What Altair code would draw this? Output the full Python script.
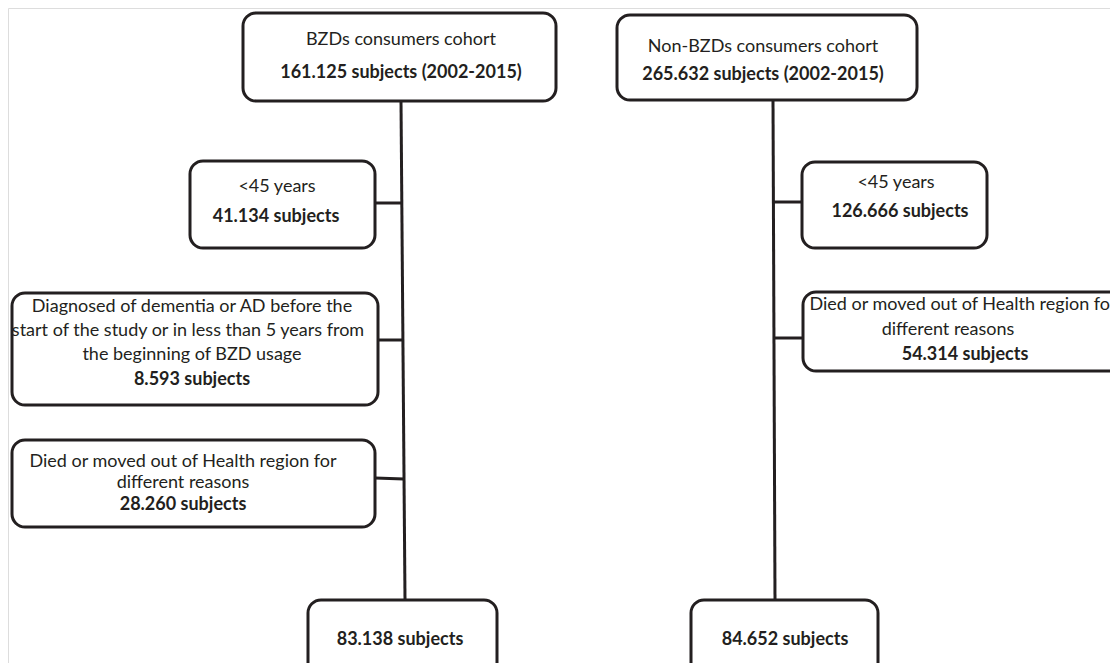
import altair as alt
import pandas as pd

# Flowchart boxes (left, top, right, bottom) in page pixels
box_x1 = [243, 617, 190, 12, 12, 802, 803, 308, 691]
box_y1 = [13, 15, 161, 293, 440, 162, 292, 600, 600]
box_x2 = [556, 917, 375, 378, 375, 987, 1135, 497, 878]
box_y2 = [101, 100, 248, 405, 527, 248, 371, 690, 690]

# Connector lines
line_x1 = [401, 375, 378, 375, 773, 773, 773]
line_y1 = [101, 203, 340, 478, 100, 202, 338]
line_x2 = [405, 401, 403, 404, 775, 802, 803]
line_y2 = [600, 203, 340, 479, 600, 202, 338]

# Text lines
txt_label = [
    "BZDs consumers cohort",
    "Non-BZDs consumers cohort",
    "<45 years",
    "Diagnosed of dementia or AD before the",
    "start of the study or in less than 5 years from",
    "the beginning of BZD usage",
    "Died or moved out of Health region for",
    "different reasons",
    "<45 years",
    "Died or moved out of Health region for",
    "different reasons",
]
txt_x = [401, 763, 277, 192, 188, 192, 183, 183, 896, 963, 948]
txt_y = [40, 47, 187, 307, 331, 355, 462, 483, 183, 305, 330]

bold_label = [
    "161.125 subjects (2002-2015)",
    "265.632 subjects (2002-2015)",
    "41.134 subjects",
    "8.593  subjects",
    "28.260 subjects",
    "126.666 subjects",
    "54.314 subjects",
    "83.138 subjects",
    "84.652 subjects",
]
bold_x = [401, 763, 276, 192, 183, 900, 965, 400, 785]
bold_y = [73, 75, 217, 380, 505, 212, 355, 640, 640]

boxes = pd.DataFrame({"x1": box_x1, "y1": box_y1, "x2": box_x2, "y2": box_y2})
lines = pd.DataFrame({"x1": line_x1, "y1": line_y1, "x2": line_x2, "y2": line_y2})
texts = pd.DataFrame({"x": txt_x, "y": txt_y, "t": txt_label})
bolds = pd.DataFrame({"x": bold_x, "y": bold_y, "t": bold_label})

W, H = 1102, 655
xs = alt.Scale(domain=[8, 8 + W], zero=False, nice=False)
ys = alt.Scale(domain=[8, 8 + H], zero=False, nice=False, reverse=True)
COL = "#231f20"
FONT = "Lato"
FS = 18

rules = alt.Chart(lines).mark_rule(color=COL, strokeWidth=3).encode(
    x=alt.X("x1:Q", scale=xs, axis=None),
    y=alt.Y("y1:Q", scale=ys, axis=None),
    x2="x2:Q",
    y2="y2:Q",
)

rects = alt.Chart(boxes).mark_rect(
    fill="white", stroke=COL, strokeWidth=3, cornerRadius=13
).encode(
    x=alt.X("x1:Q", scale=xs, axis=None),
    y=alt.Y("y1:Q", scale=ys, axis=None),
    x2="x2:Q",
    y2="y2:Q",
)

reg = alt.Chart(texts).mark_text(
    font=FONT, fontSize=FS, color=COL, baseline="middle", align="center"
).encode(
    x=alt.X("x:Q", scale=xs, axis=None),
    y=alt.Y("y:Q", scale=ys, axis=None),
    text="t:N",
)

bold = alt.Chart(bolds).mark_text(
    font=FONT, fontSize=FS, fontWeight="bold", color=COL, baseline="middle", align="center"
).encode(
    x=alt.X("x:Q", scale=xs, axis=None),
    y=alt.Y("y:Q", scale=ys, axis=None),
    text="t:N",
)

chart = alt.layer(rules, rects, reg, bold).properties(
    width=W, height=H, padding=0, autosize=alt.AutoSizeParams(type="none")
).configure_view(stroke=None).configure(background="white")

chart.save("out.html", embed_options={"renderer": "svg", "actions": False})
